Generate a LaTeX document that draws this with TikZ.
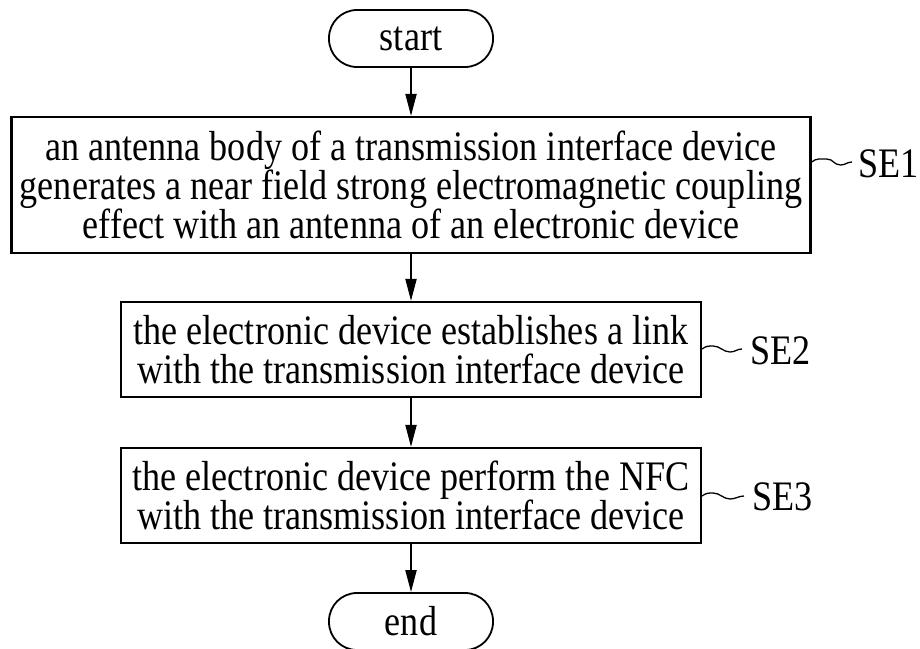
\documentclass[tikz,border=0pt]{standalone}
\usepackage{fontspec}
\setmainfont[FakeStretch=0.86]{Liberation Serif}
\usetikzlibrary{arrows.meta}
\begin{document}
\begin{tikzpicture}[x=1pt,y=-1pt,
  every node/.style={font=\fontsize{42}{39}\selectfont},
  stepbox/.style={draw, line width=2.2pt, align=center, inner sep=0pt},
  term/.style={draw, line width=1.8pt, rounded corners=28pt, minimum width=164pt, minimum height=57pt, inner sep=0pt},
  flow/.style={line width=2pt, -{Triangle[length=22pt,width=11pt]}},
  sq/.style={line width=1.3pt},
  lab/.style={anchor=west, inner sep=0pt}]
\useasboundingbox (0,0) rectangle (920,648);
\node[term] (start) at (411,38.5) {start};
\node[stepbox, minimum width=799pt, minimum height=136pt] (s1) at (411,185)
  {an antenna body of a transmission interface device\\
   generates a near field strong electromagnetic coupling\\
   effect with an antenna of an electronic device};
\node[stepbox, minimum width=580pt, minimum height=95pt] (s2) at (411,349.5)
  {the electronic device establishes a link\\
   with the transmission interface device};
\node[stepbox, minimum width=580pt, minimum height=95pt] (s3) at (411,495.5)
  {the electronic device perform the NFC\\
   with the transmission interface device};
\node[term] (end) at (411,621.5) {end};
\node[lab] (l1) at (858,164) {SE1};
\node[lab] (l2) at (750,351) {SE2};
\node[lab] (l3) at (752,497) {SE3};
\draw[flow] (start.south) -- (s1.north);
\draw[flow] (s1.south) -- (s2.north);
\draw[flow] (s2.south) -- (s3.north);
\draw[flow] (s3.south) -- (end.north);
\draw[sq] (s1.east |- 0,162) .. controls +(5,-4) and +(-6,0) .. ++(15,-3)
  .. controls +(7,0) and +(-7,0) .. ++(14,6)
  .. controls +(5,0) and +(-5,0) .. ([xshift=-6pt]l1.west |- 0,162);
\draw[sq] (s2.east |- 0,349) .. controls +(4,-3) and +(-5,0) .. ++(11,-3)
  .. controls +(7,0) and +(-7,0) .. ++(17,6)
  .. controls +(5,0) and +(-5,0) .. ([xshift=-8pt]l2.west |- 0,349);
\draw[sq] (s3.east |- 0,496) .. controls +(4,-3) and +(-5,0) .. ++(11,-3)
  .. controls +(7,0) and +(-7,0) .. ++(17,6)
  .. controls +(5,0) and +(-5,0) .. ([xshift=-8pt]l3.west |- 0,496);
\end{tikzpicture}
\end{document}
